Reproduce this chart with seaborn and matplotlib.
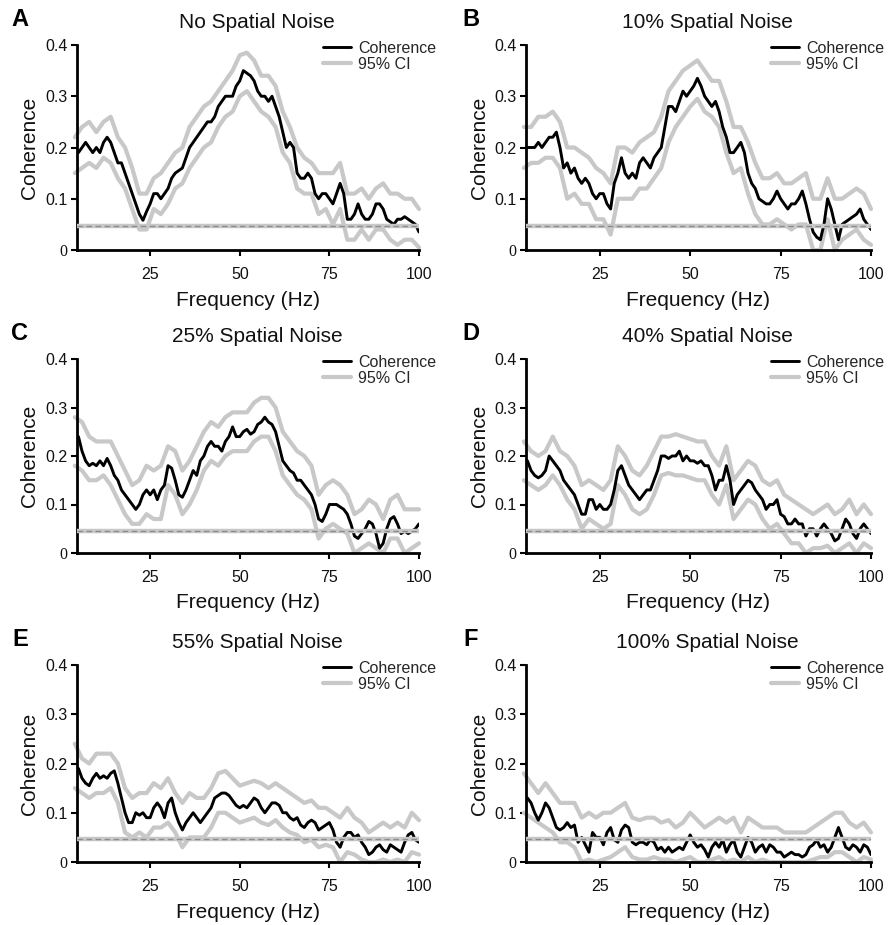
import numpy as np
import pandas as pd
import matplotlib
matplotlib.use("Agg")
import matplotlib.pyplot as plt
from matplotlib.lines import Line2D
import seaborn as sns

# ---------------- data ----------------
FREQ = list(range(5, 101))          # coherence sampled every 1 Hz
FREQ_CI = list(range(4, 101, 2))    # CI bounds sampled every 2 Hz
SIG_LEVEL = 0.046

TITLES = ["No Spatial Noise", "10% Spatial Noise", "25% Spatial Noise",
          "40% Spatial Noise", "55% Spatial Noise", "100% Spatial Noise"]
LETTERS = ["A", "B", "C", "D", "E", "F"]
X_TICKS = [25, 50, 75, 100]
Y_TICKS = [0, 0.1, 0.2, 0.3, 0.4]
Y_TICK_LABELS = ["0", "0.1", "0.2", "0.3", "0.4"]

A_coh = [0.19,0.20,0.21,0.20,0.19,0.20,0.19,0.21,0.22,0.21,
         0.19,0.17,0.17,0.15,0.13,0.11,0.09,0.07,0.058,0.075,
         0.09,0.11,0.11,0.10,0.11,0.12,0.14,0.15,0.155,0.16,
         0.18,0.20,0.21,0.22,0.23,0.24,0.25,0.25,0.26,0.28,
         0.29,0.30,0.30,0.30,0.32,0.33,0.35,0.345,0.34,0.33,
         0.31,0.30,0.30,0.29,0.30,0.28,0.26,0.23,0.20,0.21,
         0.20,0.15,0.14,0.14,0.15,0.14,0.11,0.10,0.11,0.11,
         0.10,0.09,0.11,0.13,0.11,0.06,0.06,0.07,0.09,0.07,
         0.06,0.06,0.07,0.09,0.09,0.08,0.06,0.055,0.05,0.06,
         0.06,0.065,0.06,0.055,0.05,0.035]
A_hi = [0.22,0.24,0.25,0.23,0.25,0.26,0.22,0.20,0.16,0.11,
        0.11,0.14,0.15,0.17,0.19,0.20,0.24,0.26,0.28,0.29,
        0.31,0.33,0.35,0.38,0.385,0.37,0.34,0.34,0.32,0.27,
        0.24,0.20,0.18,0.17,0.15,0.15,0.15,0.17,0.11,0.11,
        0.12,0.10,0.12,0.13,0.11,0.11,0.10,0.10,0.08]
A_lo = [0.15,0.16,0.17,0.16,0.18,0.17,0.14,0.12,0.08,0.04,
        0.04,0.08,0.07,0.09,0.12,0.13,0.16,0.18,0.20,0.21,
        0.24,0.26,0.27,0.30,0.31,0.29,0.27,0.26,0.24,0.19,
        0.17,0.12,0.11,0.11,0.07,0.08,0.05,0.08,0.02,0.02,
        0.04,0.02,0.04,0.04,0.02,0.01,0.02,0.02,0.005]

B_coh = [0.20,0.20,0.20,0.21,0.20,0.21,0.22,0.22,0.23,0.20,
         0.16,0.17,0.15,0.16,0.14,0.13,0.14,0.13,0.11,0.10,
         0.11,0.11,0.09,0.08,0.13,0.15,0.18,0.15,0.14,0.15,
         0.14,0.17,0.18,0.17,0.16,0.18,0.19,0.20,0.24,0.28,
         0.28,0.27,0.29,0.31,0.30,0.31,0.32,0.335,0.32,0.30,
         0.29,0.28,0.29,0.27,0.24,0.22,0.19,0.19,0.20,0.21,
         0.19,0.15,0.13,0.12,0.10,0.095,0.09,0.09,0.10,0.115,
         0.10,0.09,0.08,0.09,0.09,0.10,0.115,0.09,0.06,0.035,
         0.025,0.02,0.05,0.10,0.08,0.05,0.02,0.05,0.055,0.06,
         0.065,0.07,0.08,0.06,0.05,0.04]
B_hi = [0.24,0.24,0.26,0.26,0.27,0.25,0.20,0.20,0.19,0.18,
        0.16,0.15,0.13,0.20,0.20,0.19,0.21,0.22,0.23,0.26,
        0.31,0.33,0.35,0.36,0.37,0.35,0.33,0.33,0.29,0.24,
        0.24,0.21,0.17,0.14,0.14,0.15,0.13,0.13,0.14,0.15,
        0.10,0.10,0.14,0.10,0.10,0.11,0.12,0.11,0.08]
B_lo = [0.16,0.17,0.17,0.18,0.18,0.16,0.10,0.11,0.09,0.09,
        0.06,0.06,0.03,0.10,0.10,0.10,0.12,0.12,0.14,0.16,
        0.21,0.24,0.26,0.28,0.295,0.27,0.26,0.24,0.19,0.15,
        0.16,0.11,0.07,0.05,0.05,0.06,0.05,0.04,0.05,0.05,
        0.0,0.0,0.06,0.0,0.02,0.03,0.04,0.02,0.01]

C_coh = [0.24,0.21,0.19,0.18,0.185,0.18,0.19,0.18,0.195,0.18,
         0.16,0.15,0.13,0.12,0.11,0.10,0.09,0.10,0.12,0.13,
         0.12,0.13,0.11,0.13,0.14,0.18,0.175,0.15,0.12,0.115,
         0.13,0.15,0.17,0.16,0.19,0.20,0.22,0.23,0.22,0.22,
         0.21,0.23,0.24,0.26,0.24,0.24,0.25,0.255,0.245,0.25,
         0.265,0.27,0.28,0.27,0.265,0.25,0.22,0.19,0.18,0.17,
         0.165,0.15,0.15,0.14,0.13,0.12,0.10,0.07,0.065,0.08,
         0.10,0.10,0.10,0.095,0.09,0.08,0.06,0.035,0.03,0.04,
         0.05,0.065,0.06,0.04,0.01,0.02,0.05,0.07,0.075,0.06,
         0.04,0.045,0.04,0.045,0.05,0.06]
C_hi = [0.28,0.27,0.24,0.23,0.23,0.23,0.20,0.17,0.14,0.15,
        0.18,0.17,0.18,0.22,0.21,0.17,0.19,0.22,0.25,0.27,
        0.26,0.28,0.29,0.29,0.29,0.31,0.32,0.32,0.30,0.25,
        0.23,0.21,0.20,0.18,0.12,0.14,0.15,0.14,0.12,0.08,
        0.09,0.11,0.10,0.07,0.11,0.12,0.09,0.09,0.09]
C_lo = [0.18,0.17,0.15,0.15,0.16,0.14,0.11,0.08,0.06,0.06,
        0.08,0.07,0.07,0.14,0.12,0.08,0.10,0.13,0.17,0.19,
        0.18,0.20,0.21,0.21,0.21,0.23,0.24,0.24,0.21,0.16,
        0.14,0.12,0.11,0.09,0.03,0.05,0.06,0.05,0.04,0.0,
        0.01,0.02,0.01,0.0,0.03,0.03,0.0,0.01,0.02]

D_coh = [0.19,0.17,0.16,0.155,0.16,0.17,0.20,0.19,0.18,0.17,
         0.15,0.14,0.13,0.12,0.10,0.08,0.08,0.11,0.11,0.09,
         0.10,0.09,0.09,0.10,0.13,0.17,0.18,0.16,0.14,0.13,
         0.12,0.11,0.12,0.13,0.13,0.15,0.17,0.20,0.20,0.195,
         0.20,0.20,0.21,0.19,0.20,0.19,0.19,0.185,0.19,0.18,
         0.18,0.16,0.13,0.15,0.15,0.18,0.15,0.10,0.12,0.13,
         0.14,0.15,0.145,0.13,0.12,0.11,0.09,0.10,0.10,0.11,
         0.08,0.075,0.06,0.06,0.07,0.06,0.06,0.035,0.05,0.05,
         0.035,0.05,0.06,0.05,0.04,0.025,0.03,0.05,0.07,0.06,
         0.04,0.03,0.05,0.06,0.05,0.04]
D_hi = [0.23,0.21,0.20,0.21,0.24,0.21,0.20,0.18,0.14,0.15,
        0.14,0.13,0.15,0.22,0.20,0.17,0.16,0.18,0.21,0.24,
        0.24,0.245,0.24,0.235,0.23,0.23,0.20,0.18,0.22,0.15,
        0.17,0.19,0.18,0.15,0.14,0.15,0.12,0.11,0.10,0.09,
        0.08,0.09,0.10,0.08,0.09,0.11,0.08,0.10,0.08]
D_lo = [0.15,0.14,0.13,0.14,0.16,0.14,0.11,0.09,0.05,0.07,
        0.06,0.05,0.06,0.14,0.12,0.09,0.08,0.09,0.12,0.16,
        0.165,0.16,0.16,0.155,0.15,0.15,0.12,0.10,0.14,0.07,
        0.09,0.11,0.10,0.07,0.05,0.06,0.04,0.02,0.02,0.0,
        0.01,0.01,0.015,0.0,0.01,0.02,0.0,0.02,0.01]

E_coh = [0.19,0.17,0.16,0.155,0.17,0.18,0.17,0.175,0.17,0.18,
         0.185,0.16,0.13,0.10,0.08,0.08,0.10,0.095,0.10,0.09,
         0.09,0.11,0.12,0.11,0.09,0.12,0.13,0.10,0.08,0.065,
         0.08,0.09,0.10,0.09,0.08,0.09,0.10,0.11,0.13,0.135,
         0.14,0.14,0.135,0.125,0.115,0.11,0.115,0.11,0.12,0.13,
         0.125,0.11,0.10,0.11,0.12,0.12,0.115,0.10,0.10,0.09,
         0.085,0.09,0.075,0.07,0.08,0.085,0.08,0.065,0.07,0.075,
         0.08,0.065,0.04,0.03,0.05,0.06,0.06,0.05,0.055,0.04,
         0.03,0.015,0.02,0.03,0.035,0.025,0.02,0.035,0.03,0.025,
         0.02,0.04,0.055,0.06,0.045,0.04]
E_hi = [0.24,0.21,0.20,0.22,0.22,0.22,0.20,0.15,0.13,0.14,
        0.14,0.16,0.15,0.17,0.14,0.12,0.14,0.13,0.13,0.15,
        0.18,0.185,0.17,0.155,0.16,0.165,0.16,0.15,0.16,0.15,
        0.14,0.13,0.12,0.125,0.11,0.11,0.10,0.09,0.11,0.09,
        0.08,0.06,0.07,0.08,0.07,0.08,0.07,0.10,0.085]
E_lo = [0.15,0.14,0.13,0.14,0.14,0.15,0.12,0.06,0.05,0.06,
        0.05,0.07,0.07,0.08,0.06,0.03,0.05,0.05,0.05,0.07,
        0.10,0.10,0.09,0.08,0.085,0.09,0.08,0.075,0.085,0.07,
        0.06,0.055,0.04,0.045,0.03,0.035,0.03,0.0,0.02,0.015,
        0.005,0.0,0.0,0.005,0.0,0.005,0.0,0.02,0.015]

F_coh = [0.13,0.12,0.10,0.085,0.10,0.12,0.11,0.09,0.07,0.065,
         0.07,0.08,0.07,0.075,0.04,0.05,0.035,0.02,0.06,0.05,
         0.05,0.035,0.06,0.07,0.045,0.04,0.065,0.075,0.07,0.04,
         0.035,0.04,0.04,0.035,0.045,0.04,0.025,0.03,0.02,0.03,
         0.02,0.025,0.03,0.025,0.04,0.055,0.04,0.03,0.035,0.025,
         0.01,0.03,0.04,0.03,0.045,0.02,0.035,0.045,0.02,0.01,
         0.03,0.05,0.04,0.02,0.03,0.035,0.02,0.035,0.03,0.02,
         0.02,0.01,0.015,0.02,0.015,0.015,0.01,0.015,0.03,0.035,
         0.045,0.03,0.035,0.02,0.03,0.05,0.07,0.05,0.03,0.025,
         0.035,0.03,0.02,0.035,0.03,0.015]
F_hi = [0.18,0.16,0.14,0.16,0.14,0.12,0.12,0.12,0.09,0.10,
        0.09,0.10,0.10,0.11,0.12,0.09,0.085,0.09,0.09,0.08,
        0.085,0.07,0.08,0.10,0.085,0.07,0.08,0.09,0.08,0.09,
        0.06,0.09,0.08,0.07,0.07,0.07,0.06,0.06,0.06,0.06,
        0.07,0.08,0.09,0.10,0.10,0.08,0.07,0.08,0.06]
F_lo = [0.10,0.09,0.08,0.07,0.06,0.04,0.04,0.03,0.0,0.005,
        0.0,0.005,0.01,0.02,0.03,0.01,0.005,0.005,0.01,0.005,
        0.005,0.0,0.005,0.01,0.0,0.0,0.005,0.01,0.0,0.005,
        0.0,0.01,0.0,0.005,0.0,0.0,0.0,0.0,0.0,0.0,
        0.005,0.01,0.01,0.02,0.02,0.01,0.0,0.01,0.005]

COH = [A_coh, B_coh, C_coh, D_coh, E_coh, F_coh]
HI = [A_hi, B_hi, C_hi, D_hi, E_hi, F_hi]
LO = [A_lo, B_lo, C_lo, D_lo, E_lo, F_lo]

# ---------------- style ----------------
sns.set_style("ticks")
plt.rcParams["font.family"] = ["Liberation Sans", "DejaVu Sans"]

W, H = 888, 925
fig = plt.figure(figsize=(W / 100, H / 100), dpi=100)

GRAY = "#c8c8c8"
DASH = "#8c8c8c"

# pixel layout of each panel: (left, right, top, bottom)
COLS = [(77, 419), (526, 871)]
ROWS = [(45, 250), (359, 553), (665, 862)]
YLABEL_X = [30, 479]
LEGEND_RIGHT = [436, 884]
LETTER_X = [20, 471]

for i in range(6):
    r, c = divmod(i, 2)
    l, rr = COLS[c]
    t, b = ROWS[r]
    ax = fig.add_axes([l / W, 1 - b / H, (rr - l) / W, (b - t) / H])

    df_ci = pd.DataFrame({"f": FREQ_CI, "hi": HI[i], "lo": LO[i]})
    df_c = pd.DataFrame({"f": FREQ, "coh": COH[i]})

    sns.lineplot(data=df_ci, x="f", y="hi", ax=ax, color=GRAY, lw=3.0,
                 clip_on=False)
    sns.lineplot(data=df_ci, x="f", y="lo", ax=ax, color=GRAY, lw=3.0,
                 clip_on=False)
    sns.lineplot(data=df_c, x="f", y="coh", ax=ax, color="black", lw=2.1)
    ax.axhline(SIG_LEVEL, color=GRAY, lw=3.2, zorder=5)
    ax.axhline(SIG_LEVEL, color=DASH, lw=1.0, dashes=(4, 2.5), zorder=6)

    ax.set_xlim(4.6, 100)
    ax.set_ylim(0, 0.4)
    ax.set_xticks(X_TICKS)
    ax.set_xticklabels([str(v) for v in X_TICKS])
    ax.set_yticks(Y_TICKS)
    ax.set_yticklabels(Y_TICK_LABELS)
    for lab in ax.get_yticklabels():
        if lab.get_text() == "0":
            lab.set_fontfamily(["Liberation Serif", "DejaVu Serif"])
    ax.tick_params(axis="both", labelsize=11.5, length=4, width=1.5,
                   direction="out", color="black", labelcolor="#111111")
    ax.tick_params(axis="x", pad=8)
    ax.tick_params(axis="y", pad=3)
    for s in ("top", "right"):
        ax.spines[s].set_visible(False)
    for s in ("left", "bottom"):
        ax.spines[s].set_linewidth(2.0)
        ax.spines[s].set_color("black")

    ax.set_xlabel("Frequency (Hz)", fontsize=15, color="#111111")
    ax.set_ylabel("Coherence", fontsize=15, color="#111111")
    ax.xaxis.label.set_va("center")
    ax.yaxis.label.set_va("center")
    ax.xaxis.set_label_coords(0.5, -50 / (b - t))
    ax.yaxis.set_label_coords((YLABEL_X[c] - l) / (rr - l), 0.5)

    handles = [Line2D([], [], color="black", lw=2.1),
               Line2D([], [], color=GRAY, lw=3.0)]
    ax.legend(handles, ["Coherence", "95% CI"], loc="upper right",
              bbox_to_anchor=((LEGEND_RIGHT[c] - l) / (rr - l), 1 + 4 / (b - t)),
              frameon=False, fontsize=11.5, handlelength=1.8, handletextpad=0.4,
              labelspacing=0.05, borderaxespad=0, borderpad=0)

    # title and panel letter
    cx = (l + rr) / 2 + 9
    fig.text(cx / W, 1 - (t - 23) / H, TITLES[i], ha="center", va="center",
             fontsize=15, color="#111111")
    fig.text(LETTER_X[c] / W, 1 - (t - 25) / H, LETTERS[i], ha="center", va="center",
             fontsize=17, fontweight="bold", color="black")

fig.savefig("out.png", dpi=100)
